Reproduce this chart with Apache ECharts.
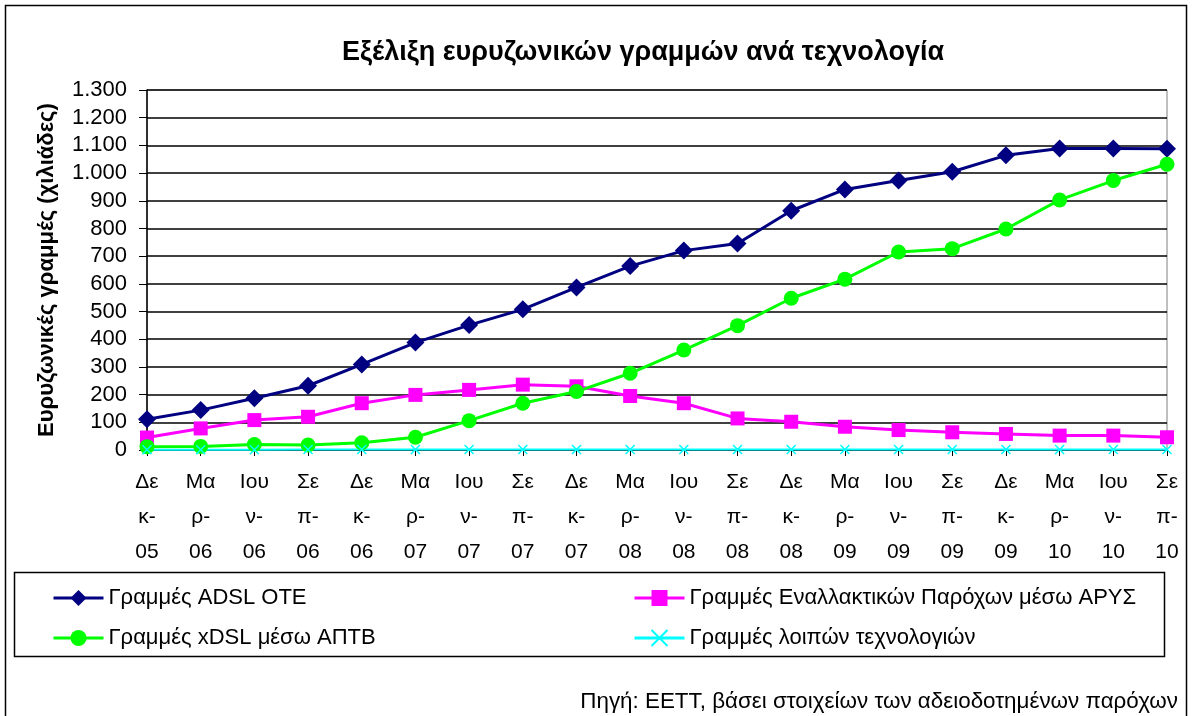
<!DOCTYPE html>
<html>
<head>
<meta charset="utf-8">
<script src="https://cdn.jsdelivr.net/npm/echarts@6/dist/echarts.min.js"></script>
<style>
  html, body { margin: 0; padding: 0; background: #fff; }
  #chart { width: 1192px; height: 716px; }
</style>
</head>
<body>
<div id="chart"></div>
<script>
// quarters, wrapped the way the original axis shows them
var tickLabels = ['Δε\nκ-\n05','Μα\nρ-\n06','Ιου\nν-\n06','Σε\nπ-\n06','Δε\nκ-\n06','Μα\nρ-\n07','Ιου\nν-\n07','Σε\nπ-\n07',
  'Δε\nκ-\n07','Μα\nρ-\n08','Ιου\nν-\n08','Σε\nπ-\n08','Δε\nκ-\n08','Μα\nρ-\n09','Ιου\nν-\n09','Σε\nπ-\n09',
  'Δε\nκ-\n09','Μα\nρ-\n10','Ιου\nν-\n10','Σε\nπ-\n10'];

// thousands of lines
var adslOte = [111,144,187,232,309,388,451,508,587,664,720,746,864,941,973,1005,1064,1089,1089,1088];
var arysAlt = [45,78,108,120,169,199,217,236,230,195,169,114,102,84,72,64,58,52,52,46];
var xdslAptv = [12,13,20,18,26,46,106,169,211,277,361,449,548,617,715,727,798,903,973,1032];
var otherTech = [1,1,1,2,2,2,2,2,2,2,2,2,2,2,2,2,2,2,2,2];

var names = ['Γραμμές ADSL OTE','Γραμμές Εναλλακτικών Παρόχων μέσω ΑΡΥΣ','Γραμμές xDSL μέσω ΑΠΤΒ','Γραμμές λοιπών τεχνολογιών'];

var font = 'Liberation Sans, Arial, sans-serif';
var myChart = echarts.init(document.getElementById('chart'));

function lineSeries(name, data, color, symbol, size) {
  return {
    name: name,
    type: 'line',
    data: data,
    symbol: symbol,
    symbolSize: size,
    showAllSymbol: true,
    lineStyle: { color: color, width: 3 },
    itemStyle: { color: color },
    emphasis: { disabled: true },
    animation: false
  };
}

var crossSeries = lineSeries(names[3], otherTech, '#00ffff', 'path://M0,0L10,10M10,0L0,10', 9);
crossSeries.itemStyle = { color: 'none', borderColor: '#00ffff', borderWidth: 1.5 };
crossSeries.lineStyle.width = 2;

var legendText = { fontFamily: font, fontSize: 22, lineHeight: 24, color: '#000' };

var option = {
  backgroundColor: '#fff',
  title: [
    {
      text: 'Εξέλιξη ευρυζωνικών γραμμών ανά τεχνολογία',
      left: 337, top: 34,
      textStyle: { fontFamily: font, fontSize: 27, fontWeight: 'bold', color: '#000' }
    },
    {
      text: 'Πηγή: ΕΕΤΤ, βάσει στοιχείων των αδειοδοτημένων παρόχων',
      right: 9, top: 686,
      textStyle: { fontFamily: font, fontSize: 22.4, fontWeight: 'normal', color: '#000' }
    }
  ],
  legend: [
    {
      data: [names[0], names[2]],
      orient: 'vertical',
      left: 47, top: 581,
      itemWidth: 50, itemHeight: 20, itemGap: 16,
      lineStyle: { width: 3 },
      textStyle: legendText
    },
    {
      data: [names[1], names[3]],
      orient: 'vertical',
      left: 628, top: 581,
      itemWidth: 50, itemHeight: 20, itemGap: 16,
      lineStyle: { width: 3 },
      textStyle: legendText
    }
  ],
  grid: {
    left: 147, right: 25, top: 90, bottom: 266,
    show: true, borderColor: '#808080', borderWidth: 1
  },
  xAxis: {
    type: 'category',
    data: tickLabels,
    boundaryGap: false,
    axisLine: { lineStyle: { color: '#000', width: 1.5 } },
    axisTick: { show: true, length: 6, lineStyle: { color: '#000' } },
    axisLabel: { interval: 0, margin: 15, fontFamily: font, fontSize: 21, lineHeight: 35, color: '#000' },
    splitLine: { show: false }
  },
  yAxis: {
    type: 'value',
    min: 0, max: 1300, interval: 100,
    name: 'Ευρυζωνικές γραμμές (χιλιάδες)',
    nameLocation: 'middle',
    nameGap: 89,
    nameTextStyle: { fontFamily: font, fontSize: 22, fontWeight: 'bold', color: '#000' },
    axisLine: { show: true, lineStyle: { color: '#000', width: 1.5 } },
    axisTick: { show: true, length: 8, lineStyle: { color: '#000' } },
    axisLabel: {
      margin: 20, fontFamily: font, fontSize: 22, color: '#000',
      formatter: function (v) { return String(v).replace(/\B(?=(\d{3})+(?!\d))/g, '.'); }
    },
    splitLine: { lineStyle: { color: '#000', width: 1.5 } }
  },
  graphic: [
    { type: 'rect', shape: { x: 5.5, y: 5.5, width: 1181, height: 730 }, style: { fill: 'none', stroke: '#000', lineWidth: 1.5 }, silent: true },
    { type: 'rect', shape: { x: 14.5, y: 572.5, width: 1150, height: 84 }, style: { fill: 'none', stroke: '#000', lineWidth: 1.5 }, silent: true }
  ],
  series: [
    lineSeries(names[0], adslOte, '#000080', 'diamond', 18),
    lineSeries(names[1], arysAlt, '#ff00ff', 'rect', 14),
    lineSeries(names[2], xdslAptv, '#00ff00', 'circle', 15),
    crossSeries
  ]
};
myChart.setOption(option);
window.onresize = myChart.resize;
</script>
</body>
</html>
